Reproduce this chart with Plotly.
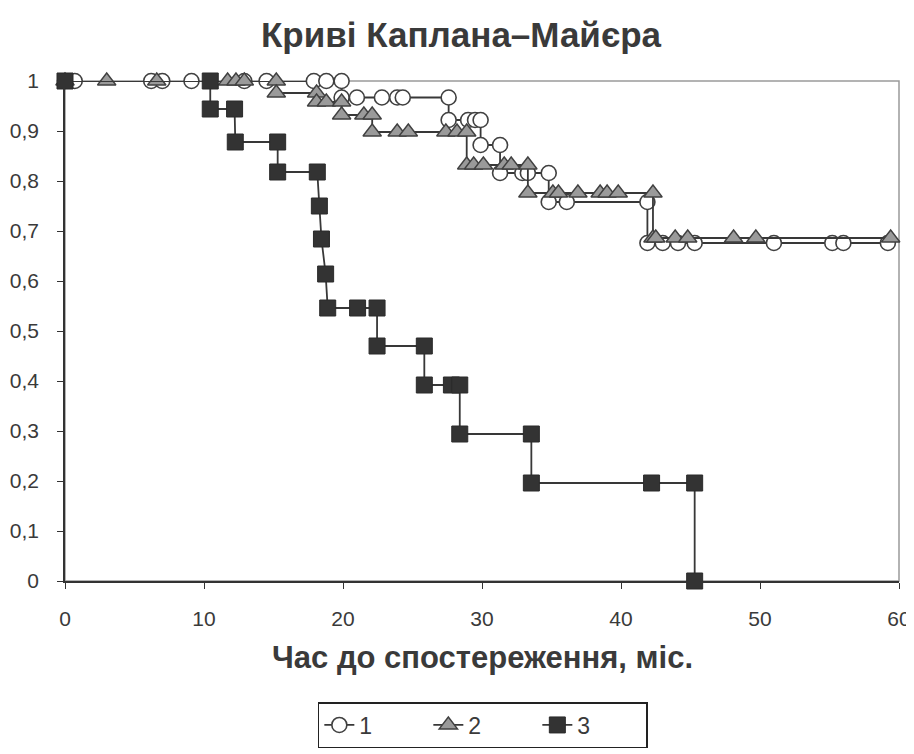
import plotly.graph_objects as go

# ---- data ----
s1_x = [0, 0.7, 6.2, 7.0, 9.1, 12.9, 14.5, 17.9, 18.8, 19.9,
        19.9, 21.0, 22.8, 23.9, 24.3, 27.6,
        27.6, 29.0, 29.5, 29.9,
        29.9, 31.3,
        31.3, 32.9, 33.3, 34.8,
        34.8, 36.1, 41.9,
        41.9, 43.0, 44.1, 45.3, 51.0, 55.2, 56.0, 59.2]
s1_y = [1, 1, 1, 1, 1, 1, 1, 1, 1, 1,
        0.967, 0.967, 0.967, 0.967, 0.967, 0.967,
        0.922, 0.922, 0.922, 0.922,
        0.872, 0.872,
        0.816, 0.816, 0.816, 0.816,
        0.758, 0.758, 0.758,
        0.676, 0.676, 0.676, 0.676, 0.676, 0.676, 0.676, 0.676]

s2_x = [0, 3.0, 6.6, 11.7, 12.3, 12.9, 15.2,
        15.2, 18.1,
        18.1, 18.8, 19.9,
        19.9, 21.5, 22.1,
        22.1, 23.9, 24.7, 27.4, 28.2, 28.9,
        28.9, 29.4, 30.1, 31.6, 32.1, 33.3,
        33.3, 35.1, 35.5, 36.9, 38.5, 39.0, 39.8, 42.3,
        42.3, 42.5, 43.9, 44.8, 48.1, 49.7, 59.4]
s2_y = [1, 1, 1, 1, 1, 1, 1,
        0.976, 0.976,
        0.958, 0.958, 0.958,
        0.932, 0.932, 0.932,
        0.898, 0.898, 0.898, 0.898, 0.898, 0.898,
        0.832, 0.832, 0.832, 0.832, 0.832, 0.832,
        0.776, 0.776, 0.776, 0.776, 0.776, 0.776, 0.776, 0.776,
        0.686, 0.686, 0.686, 0.686, 0.686, 0.686, 0.686]

s3_x = [0, 10.45, 10.45, 12.2, 12.25, 15.3, 15.3, 18.15, 18.3, 18.45, 18.75,
        18.9, 21.05, 22.45, 22.45, 25.85, 25.85, 27.8, 28.4, 28.4, 33.55,
        33.55, 42.2, 45.3, 45.3]
s3_y = [1, 1, 0.944, 0.944, 0.878, 0.878, 0.818, 0.818, 0.75, 0.684, 0.614,
        0.546, 0.546, 0.546, 0.47, 0.47, 0.392, 0.392, 0.392, 0.294, 0.294,
        0.196, 0.196, 0.196, 0]

series_names = ["1", "2", "3"]
x_ticks = [0, 10, 20, 30, 40, 50, 60]
y_ticks = [0, 0.1, 0.2, 0.3, 0.4, 0.5, 0.6, 0.7, 0.8, 0.9, 1]
y_tick_labels = ["0", "0,1", "0,2", "0,3", "0,4", "0,5", "0,6", "0,7", "0,8", "0,9", "1"]

title_text = "Криві Каплана–Майєра"
x_title = "Час до спостереження, міс."

FONT = "Liberation Sans, Arial, sans-serif"
LINE = "#383838"
TXT = "#3a3a3a"

# the page body has an 8px default margin, so the figure is sized to fit the window
W, H = 906, 746

fig = go.Figure()
fig.add_trace(go.Scatter(
    x=s1_x, y=s1_y, name=series_names[0], mode="lines+markers",
    line=dict(color=LINE, width=1.8),
    marker=dict(symbol="circle", size=15, color="white",
                line=dict(color="#404040", width=1.6)),
    cliponaxis=False))
fig.add_trace(go.Scatter(
    x=s2_x, y=s2_y, name=series_names[1], mode="lines+markers",
    line=dict(color=LINE, width=1.8),
    marker=dict(symbol="triangle-up", size=16, color="#9a9a9a",
                line=dict(color="#404040", width=1.4)),
    cliponaxis=False))
fig.add_trace(go.Scatter(
    x=s3_x, y=s3_y, name=series_names[2], mode="lines+markers",
    line=dict(color=LINE, width=1.8),
    marker=dict(symbol="square", size=16, color="#333333",
                line=dict(color="#2a2a2a", width=1)),
    cliponaxis=False))

axis_common = dict(showgrid=False, zeroline=False, showline=True,
                   linecolor="#333333", linewidth=1.6,
                   tickcolor="#333333", tickwidth=1.4, ticklen=6,
                   automargin=False)

fig.update_layout(
    width=W, height=H,
    margin=dict(l=57, r=15, t=73, b=173),
    paper_bgcolor="white", plot_bgcolor="white",
    font=dict(family=FONT, color=TXT, size=21),
    title=dict(text="<b>" + title_text + "</b>", x=0.5, xref="container",
               y=1 - 27 / H, yref="container", yanchor="middle",
               font=dict(family=FONT, size=35, color=TXT)),
    xaxis=dict(range=[0, 60], tickvals=x_ticks, ticks="outside",
               ticklabelstandoff=12,
               tickfont=dict(size=21, color=TXT), **axis_common),
    yaxis=dict(range=[0, 1], tickvals=y_ticks, ticktext=y_tick_labels,
               ticks="outside", ticklabelstandoff=14,
               tickfont=dict(size=21, color=TXT), **axis_common),
    xaxis2=dict(range=[0, 60], overlaying="x", anchor="y", side="bottom",
                tickvals=x_ticks, ticks="inside", showticklabels=False,
                **axis_common),
    yaxis2=dict(range=[0, 1], overlaying="y", anchor="x", side="left",
                tickvals=y_ticks, ticks="inside", showticklabels=False,
                **axis_common),
    showlegend=True,
    legend=dict(orientation="h", x=0.501, xref="paper", xanchor="center",
                y=1 - 694 / H, yref="container", yanchor="top",
                bordercolor="#222222", borderwidth=1.5, bgcolor="white",
                font=dict(family=FONT, size=23, color=TXT),
                entrywidth=64, itemsizing="trace"),
    shapes=[dict(type="rect", xref="paper", yref="paper", x0=0, x1=1, y0=0, y1=1,
                 line=dict(color="#9a9a9a", width=1.5), layer="below")],
    annotations=[dict(text="<b>" + x_title + "</b>", xref="paper", yref="paper",
                      x=0.5, y=(573 - 649) / 500, yanchor="middle", showarrow=False,
                      font=dict(family=FONT, size=31, color=TXT))],
)

fig.write_html("out.html")
